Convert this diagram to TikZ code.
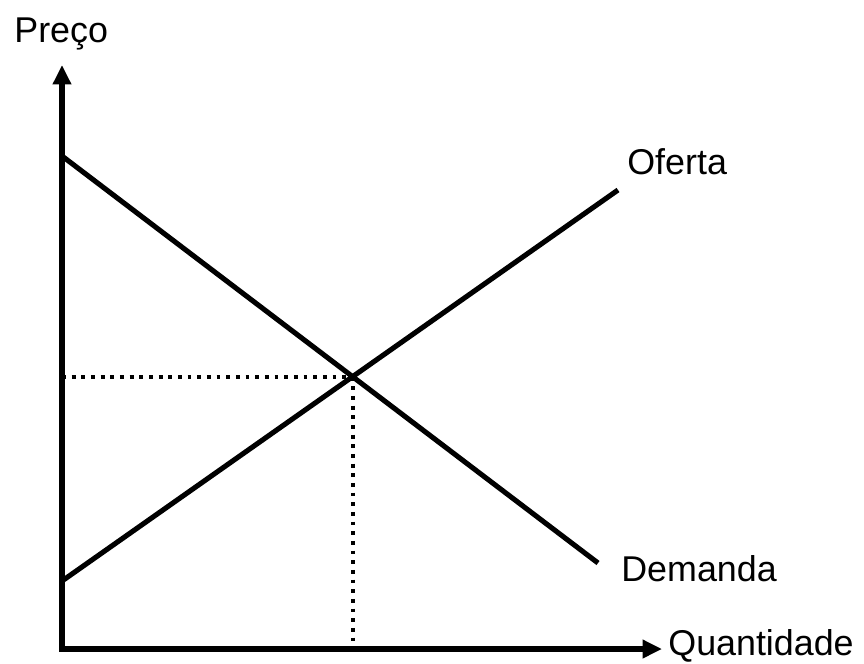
\documentclass[tikz,border=0pt]{standalone}
\usepackage{fontspec}
\setmainfont{Liberation Sans}
\usepackage{tikz}
\usetikzlibrary{arrows.meta, positioning, calc}

\begin{document}
\begin{tikzpicture}[x=0.02cm, y=-0.02cm, font=\fontsize{20.4}{24}\selectfont,
        curve/.style={line width=2.9pt},
        axis/.style={line width=2.9pt, -{Triangle[length=11pt, width=10pt]}},
        guide/.style={line width=2.2pt, dash pattern=on 2.2pt off 3.3pt},
        lbl/.style={anchor=base west, inner sep=0pt}]
        \useasboundingbox (0,0) rectangle (864,663);

        \coordinate (origin) at (62,649);
        \coordinate (ytop) at (62,65);
        \coordinate (xend) at (662,649);

        \coordinate (d1) at (62,156);
        \coordinate (d2) at (598,563);
        \coordinate (s1) at (62,581);
        \coordinate (s2) at (618,190);
        \coordinate (eq) at (intersection of d1--d2 and s1--s2);

        \draw[guide] (eq -| origin) -- (eq);
        \draw[guide] (eq) -- (eq |- origin);

        \draw[curve] (d1) -- (d2);
        \draw[curve] (s1) -- (s2);

        \draw[axis] ($(origin)+(0,2.5)$) -- (ytop);
        \draw[axis] ($(origin)+(-2.5,0)$) -- (xend);

        \node (preco) [lbl] at (14,42) {Preço};
        \node (oferta) [lbl] at (627,174) {Oferta};
        \node (demanda) [lbl] at (621,581) {Demanda};
        \node (quant) [lbl] at (668,655) {Quantidade};
    \end{tikzpicture}
\end{document}
